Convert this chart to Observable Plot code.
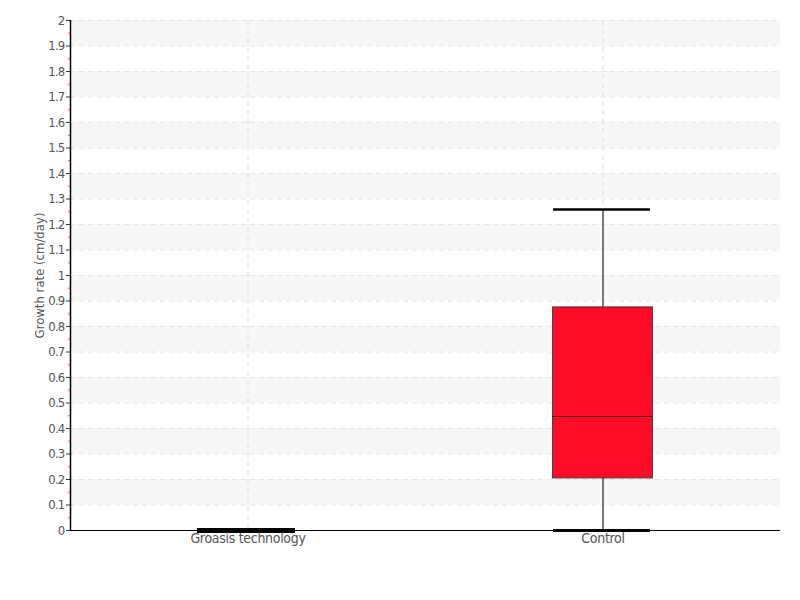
<!DOCTYPE html>
<html>
<head>
<meta charset="utf-8">
<script src="https://cdn.jsdelivr.net/npm/d3@7"></script>
<script src="https://cdn.jsdelivr.net/npm/@observablehq/plot@0.6"></script>
<style>
  body { margin: 0; background: #fff; }
  #chart { position: absolute; left: 0; top: 0; }
  g[aria-label="y-axis tick label"] { letter-spacing: -0.8px; }
  g[aria-label="x-axis tick label"] { letter-spacing: -0.3px; }
</style>
</head>
<body>
<div id="chart"></div>
<script>
const categories = ["Groasis technology", "Control"];
const lowWhisker = [0, 0];
const q1 = [0, 0.204];
const median = [0, 0.447];
const q3 = [0, 0.875];
const highWhisker = [0, 1.259];
const yTicks = [0,0.1,0.2,0.3,0.4,0.5,0.6,0.7,0.8,0.9,1,1.1,1.2,1.3,1.4,1.5,1.6,1.7,1.8,1.9,2];
const yMinorTicks = [0.05,0.15,0.25,0.35,0.45,0.55,0.65,0.75,0.85,0.95,1.05,1.15,1.25,1.35,1.45,1.55,1.65,1.75,1.85,1.95];
const shadedBands = [0.1,0.3,0.5,0.7,0.9,1.1,1.3,1.5,1.7,1.9];

const stats = categories.map((c, i) => ({
  cat: c, low: lowWhisker[i], q1: q1[i], median: median[i], q3: q3[i], high: highWhisker[i]
}));

const font = "'DejaVu Sans Condensed', sans-serif";
const boxInset = 127.5;
const capInset = 128;

const chart = Plot.plot({
  width: 800,
  height: 560,
  marginLeft: 70,
  marginRight: 20,
  marginTop: 20,
  marginBottom: 30,
  style: { fontFamily: font, fontSize: "14px", color: "#555", background: "#fff" },
  x: { domain: categories, padding: 0, label: null },
  y: { domain: [0, 2], label: null },
  marks: [
    Plot.rectY(shadedBands, { x1: () => categories[0], x2: () => categories[1], y1: d => d, y2: d => d + 0.1, fill: "#f7f7f7" }),
    Plot.ruleY(yTicks.slice(1), { stroke: "#e6e6e6", strokeDasharray: "5,4", strokeWidth: 1 }),
    Plot.ruleX(categories, { x: d => d, stroke: "#e8e8e8", strokeDasharray: "5,4", strokeWidth: 1.5 }),
    Plot.ruleX(stats, { x: "cat", y1: "low", y2: "high", stroke: "#777", strokeWidth: 2 }),
    Plot.barY(stats.filter(d => d.q3 > d.q1), { x: "cat", y1: "q1", y2: "q3", fill: "#ff0a28", stroke: "#444", strokeWidth: 1, insetLeft: boxInset, insetRight: boxInset }),
    Plot.tickY(stats.filter(d => d.q3 > d.q1), { x: "cat", y: "median", stroke: "#5a0000", strokeWidth: 1, insetLeft: boxInset, insetRight: boxInset }),
    Plot.tickY(stats, { x: "cat", y: "high", stroke: "#000", strokeWidth: 2.5, insetLeft: capInset, insetRight: capInset + 2 }),
    Plot.tickY(stats, { x: "cat", y: "low", stroke: "#000", strokeWidth: 3, insetLeft: capInset, insetRight: capInset + 2 }),
    Plot.tickY(stats.filter(d => d.high === 0), { x: "cat", y: 0, stroke: "#000", strokeWidth: 5, insetLeft: capInset - 1, insetRight: capInset + 2 }),
    Plot.ruleY([0], { stroke: "#000", strokeWidth: 1 }),
    Plot.ruleX([categories[0]], { x: d => d, dx: -177.5, stroke: "#000", strokeWidth: 1.5 }),
    Plot.axisY(yMinorTicks, { tickSize: 2, tickFormat: () => "", stroke: "#ff3030" }),
    Plot.axisY(yTicks, { tickSize: 4, tickPadding: 2, tickFormat: d => String(+d.toFixed(1)), stroke: "#333", fill: "#555", fontSize: 13, label: null }),
    Plot.axisX({ tickSize: 0, tickPadding: 3, fill: "#555", fontSize: 14, label: null }),
    Plot.text(["Growth rate (cm/day)"], { frameAnchor: "left", textAnchor: "middle", dx: -31, rotate: -90, fill: "#555", fontSize: 13 })
  ]
});
document.getElementById("chart").appendChild(chart);
</script>
</body>
</html>
